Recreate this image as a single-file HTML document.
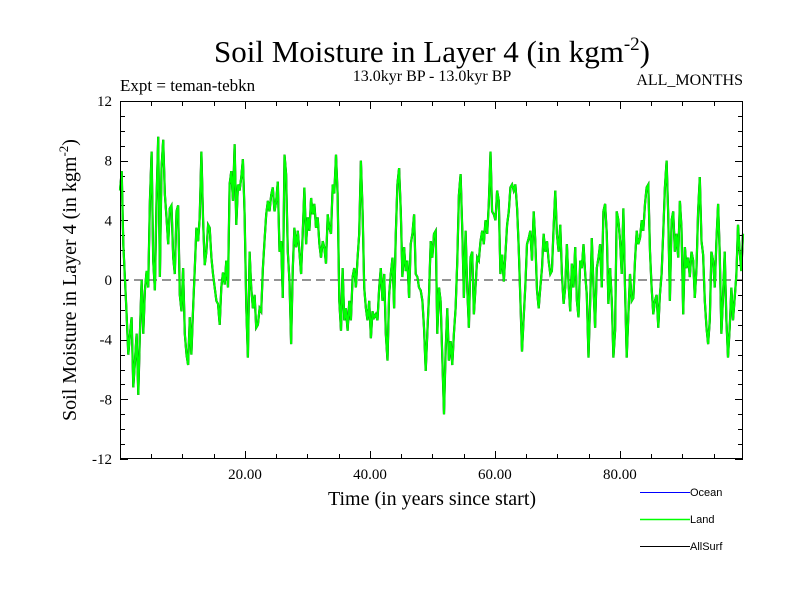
<!DOCTYPE html>
<html><head><meta charset="utf-8"><style>
body{margin:0;background:#fff}
svg text{font-family:"Liberation Serif",serif}
</style></head><body>
<svg id="chart" width="800" height="600" xmlns="http://www.w3.org/2000/svg">
<rect width="800" height="600" fill="#fff"/>
<text x="432" y="62" font-size="31" text-anchor="middle">Soil Moisture in Layer 4 (in kgm<tspan dy="-12" font-size="19">-2</tspan><tspan dy="12">)</tspan></text>
<text x="120" y="91" font-size="17">Expt = teman-tebkn</text>
<text x="432" y="81" font-size="16" text-anchor="middle">13.0kyr BP - 13.0kyr BP</text>
<text x="743" y="85" font-size="16" text-anchor="end">ALL_MONTHS</text>
<text x="432" y="505" font-size="20" text-anchor="middle">Time (in years since start)</text>
<text transform="translate(76,280) rotate(-90)" font-size="20" text-anchor="middle">Soil Moisture in Layer 4 (in kgm<tspan dy="-8" font-size="13">-2</tspan><tspan dy="8">)</tspan></text>
<g id="axes"></g>
<g id="series"></g>
<rect x="120.5" y="101.5" width="622" height="357" fill="none" stroke="#000" stroke-width="1"/>
<g font-family="Liberation Sans,sans-serif" font-size="11">
<line x1="640" y1="492.5" x2="690" y2="492.5" stroke="#0000ff"/>
<text x="690" y="496" style="font-family:'Liberation Sans',sans-serif">Ocean</text>
<line x1="640" y1="519.5" x2="690" y2="519.5" stroke="#00ff00" stroke-width="1.5"/>
<text x="690" y="523" style="font-family:'Liberation Sans',sans-serif">Land</text>
<line x1="640" y1="546.5" x2="690" y2="546.5" stroke="#000"/>
<text x="690" y="550" style="font-family:'Liberation Sans',sans-serif">AllSurf</text>
</g>
</svg>
<script>
const yTicks=[12,8,4,0,-4,-8,-12];
const yTickLabels=["12","8","4","0","-4","-8","-12"];
const xTicks=[20,40,60,80];
const xTickLabels=["20.00","40.00","60.00","80.00"];
const startYear=0, endYear=99.7;
const landValues=[6,7.3,2.4,0,-2.3,-5,-3.6,-2.5,-7.2,-5.4,-3.6,-7.7,-3.6,0,-3.6,-0.7,0.6,-0.5,5.3,8.6,1.3,-0.7,5.3,9.6,0.2,7.5,9.4,5.7,4.2,2.4,4.8,5,1.5,0.4,4.6,5,-1,-2.1,0.8,-3.6,-5,-5.7,-2.5,-5,-1.9,0.8,3.5,2.6,4.2,8.6,4,1,1.9,3.7,3.5,1.5,0.4,-0.5,-1.4,-1.6,-3,-0.5,0.5,-0.3,1.3,-0.5,6.4,7.3,5.3,9.1,3.7,6.4,6,6.9,8.1,4.4,-1.9,-5.2,1.9,-0.5,-1.9,-1,-3.2,-3,-1.9,-2.1,0.8,2.6,4.4,5.3,4.6,5.7,6.2,4.6,5.3,6.6,1.9,
2.6,-1.2,8.4,7.1,1.9,-0.1,-4.3,0.8,3.5,2.2,3.3,1.9,0.4,3.1,6.2,2.4,4.2,3.3,5.5,4.4,5.1,3.5,4.2,2.4,1.5,2.6,2.2,1.1,4.4,3.5,3.1,6.4,5.8,8.4,5.8,-1.4,-3.4,0.8,-2.7,-1.9,-3.4,-1.4,-2.7,0.2,0.8,-0.5,1.5,3.1,8.0,4.6,-0.5,-1.9,-2.7,-1.4,-3.9,-2.1,-2.5,-2.3,-2.7,-0.5,0.8,-1.4,0.4,-3.6,-5.4,-1.0,0.4,1.5,-1.9,3.1,6.4,7.5,4.6,0.2,2.2,0.6,1.3,-1.2,2.4,3.1,4.4,0.4,0.2,-0.5,-0.7,-1.4,-3.2,-6.1,-3.6,-1.0,2.6,1.5,3.1,3.3,
-3.6,-0.5,-1.4,-5.2,-9.0,-4.8,-1.9,-5.4,-4.1,-5.7,-3.6,-1.9,1.3,5.7,7.1,3.5,-1.2,3.3,-0.5,-3.2,1.5,1.9,-2.3,-0.5,1.5,1.3,2.6,3.3,2.4,4.0,3.1,5.1,8.6,4.6,4.4,4.0,6.0,5.3,0.4,1.7,-0.1,1.7,3.7,4.6,6.2,6.4,6.0,6.4,4.8,2.2,-1.4,-4.8,-2.5,-0.3,2.4,2.8,3.3,1.3,4.6,2.6,-0.7,-1.9,-0.5,0.8,3.1,1.9,2.6,1.3,0.4,0.6,3.5,6.0,3.1,1.9,3.7,0.4,-1.6,-0.5,2.4,-0.3,-2.1,1.1,-0.5,2.2,-1.4,-2.5,1.3,0.8,2.4,0.4,-1.0,-5.2,
-1.4,2.8,-0.5,-3.2,0.8,1.5,2.4,-0.5,4.6,5.1,3.1,-1.6,0.8,-1.4,-5.2,-3.4,4.6,4.0,2.6,0.4,4.8,-0.5,-5.2,-2.3,0.4,-1.4,-1.2,1.3,3.3,2.4,2.8,4.0,3.3,5.1,6.2,6.4,1.9,-0.5,-2.3,-1.4,-1.0,-3.2,-1.0,0.4,3.3,6.2,8.0,4.4,-1.4,4.0,4.6,1.9,3.1,1.5,5.3,3.5,-2.3,2.2,0.8,1.5,0.2,1.9,1.3,-1.2,0.8,4.6,6.9,2.6,1.7,-1.4,-3.2,-4.3,-2.7,1.9,1.3,-0.5,2.6,5.1,1.9,-3.6,-1.0,1.9,-2.7,-5.2,-3.2,-0.5,-2.7,-1.2,0.4,3.7,1.9,0.6,3.1];
const allSurfValues=landValues.slice();
const oceanValues=[];

const X0=120,X1=743,Y0=459,Y1=101;
const xScale=t=>X0+(t-startYear)/(endYear-startYear)*(X1-X0);
const yScale=v=>Y0+(v+12)/24*(Y1-Y0);
const NS="http://www.w3.org/2000/svg";
const axes=document.getElementById('axes');
function mk(tag,attrs,parent){const e=document.createElementNS(NS,tag);for(const k in attrs)e.setAttribute(k,attrs[k]);parent.appendChild(e);return e;}
const zl=mk('line',{x1:X0,x2:X1,y1:yScale(0),y2:yScale(0),stroke:'#555','stroke-dasharray':'9,5','stroke-width':1.2},axes);


for(let v=-12;v<=12;v++){
  const y=Math.round(yScale(v))+0.5;const len=(v%4===0)?8:5;
  const a=mk('line',{x1:X0,x2:X0+len,y1:y,y2:y,stroke:'#000'},axes);
  
  
  const b=mk('line',{x1:X1,x2:X1-len,y1:y,y2:y,stroke:'#000'},axes);
  
  
}
yTicks.forEach((v,i)=>{
  const t=mk('text',{x:X0-8,y:yScale(v)+5,'font-size':15,'text-anchor':'end'},axes);
  t.textContent=yTickLabels[i];
  
  
});
for(let t=5;t<endYear-1;t+=5){
  const x=Math.round(xScale(t))+0.5;const len=(t%20===0)?8:5;
  const a=mk('line',{x1:x,x2:x,y1:Y0,y2:Y0-len,stroke:'#000'},axes);
  
  
  const b=mk('line',{x1:x,x2:x,y1:Y1,y2:Y1+len,stroke:'#000'},axes);
  
  
}
xTicks.forEach((v,i)=>{
  const t=mk('text',{x:xScale(v),y:Y0+20,'font-size':15,'text-anchor':'middle'},axes);
  t.textContent=xTickLabels[i];
  
  
});
const series=document.getElementById('series');
function pts(vals){const n=vals.length;return vals.map((v,i)=>{const t=startYear+i*(endYear-startYear)/(n-1);return xScale(t).toFixed(1)+','+yScale(v).toFixed(1);}).join(' ');}
const la=mk('polyline',{points:pts(allSurfValues),fill:'none',stroke:'#000','stroke-width':2.2},series);


const ll=mk('polyline',{points:pts(landValues),fill:'none',stroke:'#00ff00','stroke-width':2},series);


</script>
</body></html>
